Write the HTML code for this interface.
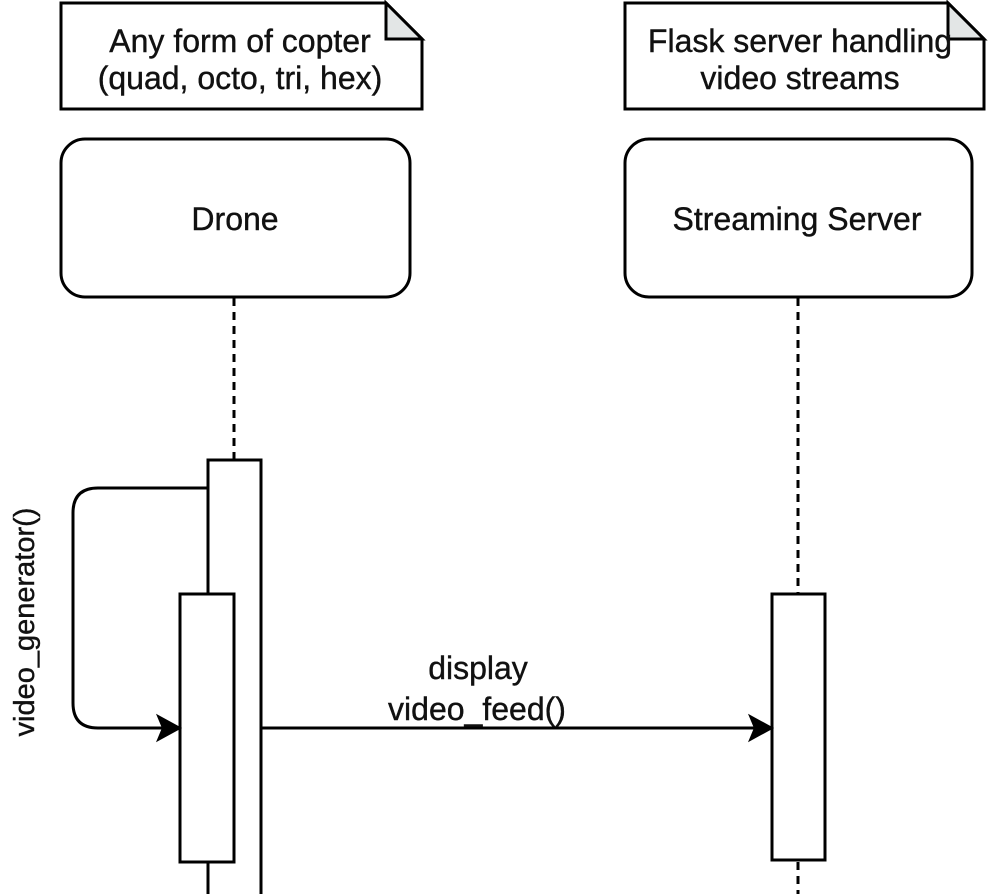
<!DOCTYPE html><html><head><style>body{margin:0;background:#fff}svg{display:block}text{font-family:"Liberation Sans",sans-serif;font-size:32px;fill:#111;stroke:#111;stroke-width:0.4}</style></head><body>
<svg width="991" height="894" viewBox="0 0 991 894">
<g fill="none" stroke="#000" stroke-width="3">
<path d="M61,3 H386 L422,39 V109 H61 Z" fill="#fff"/>
<path d="M386,3 V39 H422 Z" fill="#e3e6e6"/>
<path d="M625,3 H948 L984,39 V109 H625 Z" fill="#fff"/>
<path d="M948,3 V39 H984 Z" fill="#e3e6e6"/>
<rect x="61" y="139" width="349" height="158" rx="24"/>
<rect x="625" y="139" width="347" height="158" rx="24"/>
<path d="M234,298 V460" stroke-dasharray="8,6"/>
<path d="M798,298 V594" stroke-dasharray="8,6"/>
<path d="M798,862 V894" stroke-dasharray="8,6"/>
<path d="M208,894 V460 H261 V894" fill="#fff"/>
<path d="M208,488 H98 Q73,488 73,513 V703 Q73,728 98,728 H165"/>
<rect x="180" y="594" width="54" height="268" fill="#fff"/>
<rect x="772" y="594" width="53" height="266" fill="#fff"/>
<path d="M261,728 H757"/>
</g>
<path d="M180,728 L158,716 L163,728 L158,740 Z" fill="#000" stroke="#000" stroke-width="2"/>
<path d="M772,728 L750,716 L755,728 L750,740 Z" fill="#000" stroke="#000" stroke-width="2"/>
<text x="240" y="52" text-anchor="middle">Any form of copter</text>
<text x="240" y="89" text-anchor="middle">(quad, octo, tri, hex)</text>
<text x="800" y="52" text-anchor="middle">Flask server handling</text>
<text x="800" y="89" text-anchor="middle">video streams</text>
<text x="235" y="230" text-anchor="middle">Drone</text>
<text x="797" y="230" text-anchor="middle">Streaming Server</text>
<text x="478" y="679" text-anchor="middle">display</text>
<text x="477" y="720" text-anchor="middle">video_feed()</text>
<text transform="translate(34,622) rotate(-90)" text-anchor="middle" style="font-size:29px">video_generator()</text>
</svg></body></html>
